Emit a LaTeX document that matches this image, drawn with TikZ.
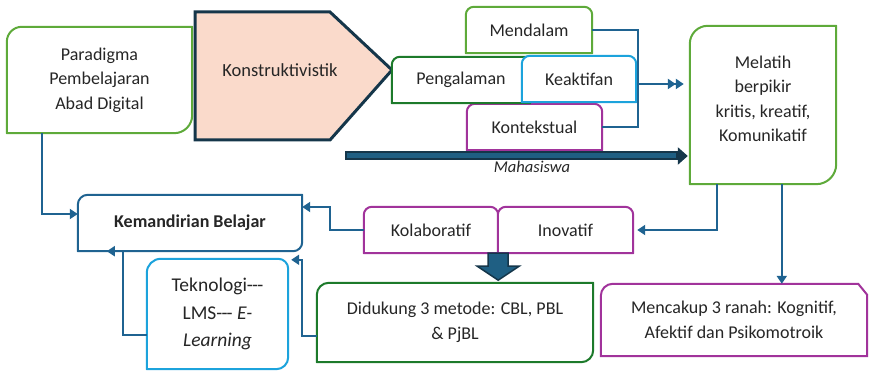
\documentclass[tikz,border=0pt]{standalone}
\usepackage{fontspec}
\setmainfont{Carlito}
\usetikzlibrary{arrows.meta, backgrounds, positioning}

\definecolor{lgreen}{HTML}{5EAA3A}
\definecolor{dgreen}{HTML}{1D7A2B}
\definecolor{lblue}{HTML}{1CA3DC}
\definecolor{violet}{HTML}{A1339B}
\definecolor{steel}{HTML}{1F6391}
\definecolor{navy}{HTML}{15364A}
\definecolor{peach}{HTML}{FADACB}
\definecolor{deepteal}{HTML}{1F5F83}

\tikzstyle{box} = [inner sep=2pt, align=center, text=black!85, font=\fontsize{18}{24.5}\selectfont]
\tikzstyle{boxline} = [line width=2pt, fill=white]
\tikzstyle{link} = [draw=steel, line width=2pt]
\tikzstyle{conn} = [link, -{Triangle[length=8pt,width=10pt]}]

% three plain hyphens (no dash ligature)
\newcommand{\hyps}{-\kern-0.8pt-\kern-0.8pt-}

% box outline: name, colour, radius TL, TR, BR, BL
\newcommand{\cbox}[6]{%
  \draw[#2, boxline] ([yshift=#6]#1.south west) -- ([yshift=-#3]#1.north west)
    arc[start angle=180, end angle=90, radius=#3] -- ([xshift=-#4]#1.north east)
    arc[start angle=90, end angle=0, radius=#4] -- ([yshift=#5]#1.south east)
    arc[start angle=0, end angle=-90, radius=#5] -- ([xshift=#6]#1.south west)
    arc[start angle=270, end angle=180, radius=#6] -- cycle;}

\begin{document}
\begin{tikzpicture}[x=1pt, y=1pt]
\useasboundingbox (0,0) rectangle (869,371);

% top row
\node[box, minimum width=185pt, minimum height=106pt] (para) at (99.5,291) {Paradigma\\Pembelajaran\\Abad Digital};
\node[box, font=\fontsize{18.5}{24}\selectfont] (kons) at (280,301) {Konstruktivistik};
\node[box, minimum width=126pt, minimum height=46pt] (mend) at (529,341) {Mendalam};
\node[box, minimum width=138pt, minimum height=46pt] (peng) at (461,291) {Pengalaman};
\node[box, minimum width=114pt, minimum height=46pt] (keak) at (579,292) {Keaktifan};
\node[box, minimum width=135pt, minimum height=46pt] (kont) at (534.5,244) {Kontekstual};
\node[box, minimum width=146pt, minimum height=158pt, text depth=12pt] (mela) at (763,266) {Melatih\\berpikir\\kritis, kreatif,\\Komunikatif};
\node[box, font=\itshape\fontsize{16.5}{18}\selectfont] (maha) at (532,204) {Mahasiswa};

% lower rows
\node[box, font=\bfseries\fontsize{18}{20}\selectfont, minimum width=224pt, minimum height=56pt] (kema) at (190,148) {Kemandirian Belajar};
\node[box, minimum width=134pt, minimum height=46pt] (kola) at (431,141) {Kolaboratif};
\node[box, minimum width=135pt, minimum height=46pt] (inov) at (565.5,141) {Inovatif};
\node[box, font=\fontsize{19.5}{27.5}\selectfont, minimum width=141pt, minimum height=110pt] (tekn) at (217.5,57) {Teknologi\hyps\\LMS\hyps{} \textit{E-}\\\textit{Learning}};
\node[box, minimum width=276pt, minimum height=79pt] (didu) at (455,48.5) {Didukung 3 metode: CBL, PBL\\\& PjBL};
\node[box, minimum width=266pt, minimum height=72pt] (menc) at (734,51) {Mencakup 3 ranah: Kognitif,\\Afektif dan Psikomotroik};

\begin{pgfonlayer}{background}
  \cbox{para}{lgreen}{15pt}{0.1pt}{18pt}{0.1pt}
  \draw[navy, line width=3pt, fill=peach] (195,359) -- (330,359) -- (392,301) -- (330,231) -- (195,231) -- cycle;
  \cbox{mend}{lgreen}{8pt}{8pt}{0.1pt}{0.1pt}
  \cbox{kont}{violet}{8pt}{8pt}{0.1pt}{0.1pt}
  \cbox{peng}{dgreen}{8pt}{0.1pt}{0.1pt}{0.1pt}
  \cbox{keak}{lblue}{8pt}{8pt}{0.1pt}{0.1pt}
  \cbox{mela}{lgreen}{18pt}{0.1pt}{20pt}{0.1pt}
  \cbox{kema}{steel}{10pt}{0.1pt}{9pt}{0.1pt}
  \cbox{kola}{violet}{8pt}{8pt}{0.1pt}{0.1pt}
  \cbox{inov}{violet}{8pt}{8pt}{0.1pt}{0.1pt}
  \cbox{tekn}{lblue}{14pt}{10pt}{12pt}{0.1pt}
  \cbox{didu}{dgreen}{12pt}{0.1pt}{12pt}{0.1pt}
  \draw[violet, boxline] (menc.south west) -- ([yshift=-12pt]menc.north west)
    arc[start angle=180, end angle=90, radius=12pt] -- ([xshift=-9pt]menc.north east)
    -- ([yshift=-11pt]menc.north east) -- (menc.south east) -- cycle;
\end{pgfonlayer}

% connectors
\coordinate (bus) at (638,287);
\draw[link] (mend.east) -| (bus) |- (kont.east);
\draw[link, -{Triangle[length=8pt,width=10pt] Triangle[length=8pt,width=10pt]}, shorten >=6pt] (bus) -- (bus -| mela.west);

\coordinate (mahaL) at (345,215);
\draw[navy, line width=9pt, -{Triangle[length=10pt,width=17pt]}, shorten >=2pt] (mahaL) -- (mahaL -| mela.west);
\draw[deepteal, line width=5pt] ([xshift=2pt]mahaL) -- ([xshift=-14pt]mahaL -| mela.west);

\draw[conn] ([xshift=35pt]para.south west) |- ([yshift=9pt]kema.west);
\draw[conn] (kola.west) -- ++(-34,0) |- ([yshift=16pt]kema.east);
\draw[conn] ([yshift=-21pt]tekn.west) -| ([xshift=45pt]kema.south west) -- ([xshift=29pt]kema.south west);
\draw[conn] ([yshift=-13.5pt]didu.west) -| ([xshift=14pt,yshift=-1pt]tekn.north east) -- ([xshift=3pt,yshift=-1pt]tekn.north east);
\draw[conn, shorten >=4pt] ([xshift=27pt]mela.south west) |- (inov.east);
\coordinate (melaS) at ([xshift=92pt]mela.south west);
\draw[conn] (melaS) -- (melaS |- menc.north);

% block arrow into the methods box
\coordinate (blk) at (kola.south east);
\draw[navy, fill=deepteal, line width=1.5pt] ([xshift=-10pt]blk) -- ++(20,0) -- ++(0,-13) -- ++(11,0)
  -- ++(-21,-14) -- ++(-21,14) -- ++(11,0) -- cycle;
\end{tikzpicture}
\end{document}
